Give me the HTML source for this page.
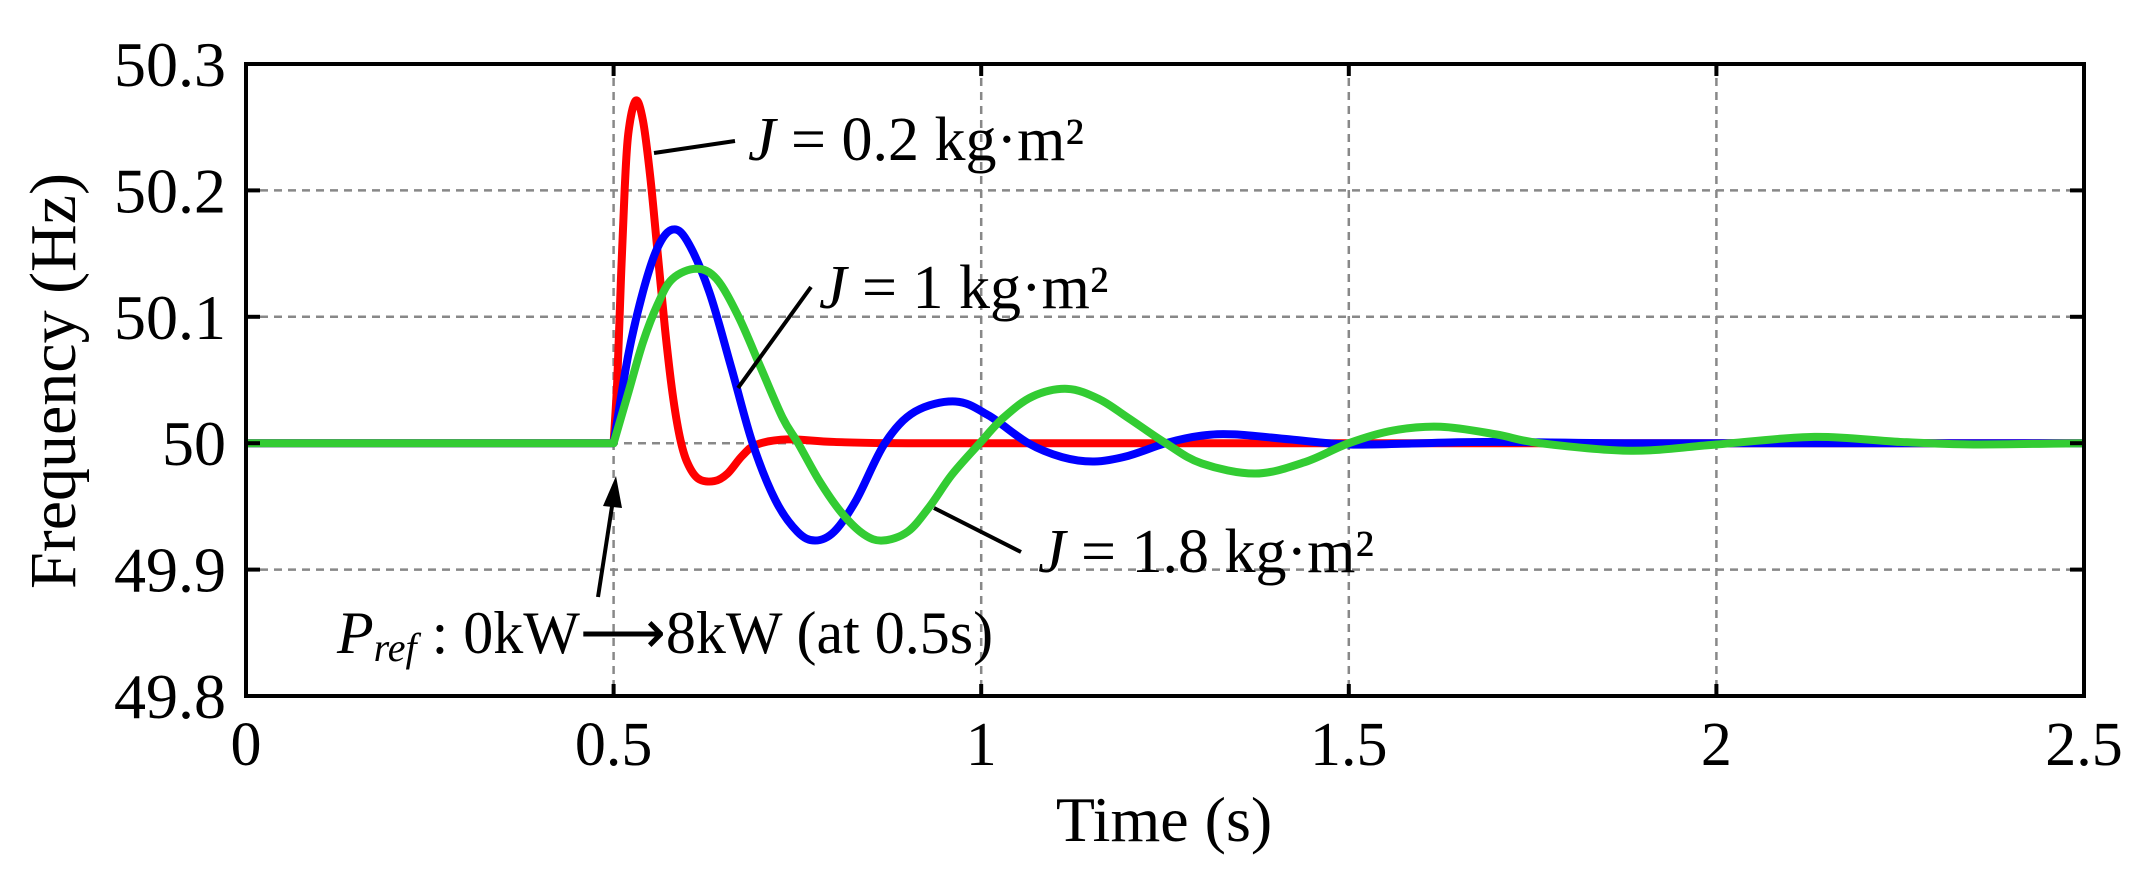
<!DOCTYPE html>
<html><head><meta charset="utf-8"><style>
html,body{margin:0;padding:0;background:#fff;}
svg{display:block;font-family:"Liberation Serif",serif;}
</style></head><body>
<svg id="chart" width="2147" height="879" viewBox="0 0 2147 879">
<g id="grid"></g>
<g id="series"></g>
<rect x="246" y="64" width="1838" height="632" fill="none" stroke="#000" stroke-width="4"/>
<g id="ticks"></g>
<text x="60" y="381" font-size="66" text-anchor="middle" transform="rotate(-90 60 381)" dominant-baseline="middle">Frequency (Hz)</text>
<text x="1164" y="841" font-size="64" text-anchor="middle">Time (s)</text>
<g>
<line x1="654" y1="153" x2="735" y2="141" stroke="#000" stroke-width="4"/>
<text x="748" y="160" font-size="62"><tspan font-style="italic">J</tspan> = 0.2 kg·m²</text></g>
<g>
<line x1="738" y1="388" x2="811" y2="287" stroke="#000" stroke-width="4"/>
<text x="819" y="308" font-size="62"><tspan font-style="italic">J</tspan> = 1 kg·m²</text></g>
<g>
<line x1="934" y1="508" x2="1021" y2="552" stroke="#000" stroke-width="4"/>
<text x="1038" y="572" font-size="62"><tspan font-style="italic">J</tspan> = 1.8 kg·m²</text></g>
<g>
<line x1="598" y1="597" x2="613" y2="500" stroke="#000" stroke-width="4"/>
<polygon points="616,476 603,506 622,508" fill="#000"/>
<text x="337" y="653" font-size="60"><tspan font-style="italic">P</tspan><tspan font-style="italic" font-size="40" dy="8">ref</tspan><tspan dy="-8"> : 0kW⟶8kW (at 0.5s)</tspan></text></g>
</svg>
<script>
const xTicks=[0,0.5,1,1.5,2,2.5];
const xTickLabels=["0","0.5","1","1.5","2","2.5"];
const yTicks=[49.8,49.9,50,50.1,50.2,50.3];
const yTickLabels=["49.8","49.9","50","50.1","50.2","50.3"];
const timeRed=[0,0.25,0.45,0.5,0.505,0.51,0.515,0.52,0.53,0.54,0.55,0.56,0.57,0.58,0.59,0.6,0.615,0.637,0.655,0.675,0.695,0.737,0.8,0.9,1.2,1.6,2.0,2.5];
const freqRed=[50,50,50,50,50.05,50.13,50.2,50.245,50.271,50.255,50.21,50.15,50.09,50.04,50.005,49.985,49.972,49.97,49.976,49.99,49.999,50.003,50.001,50,50,50,50,50];
const timeBlue=[0,0.25,0.45,0.5,0.52,0.54,0.56,0.58,0.6,0.63,0.66,0.689,0.72,0.75,0.774,0.8,0.83,0.869,0.91,0.965,1.01,1.064,1.11,1.154,1.2,1.251,1.3,1.345,1.42,1.5,1.6,1.7,1.9,2.2,2.5];
const freqBlue=[50,50,50,50,50.07,50.12,50.155,50.169,50.16,50.12,50.06,50,49.955,49.93,49.923,49.93,49.955,50,50.025,50.033,50.022,50,49.989,49.9855,49.99,50,50.006,50.007,50.003,49.999,50,50.001,50,50,50];
const timeGreen=[0,0.25,0.45,0.5,0.52,0.54,0.56,0.58,0.6125,0.64,0.67,0.7,0.73,0.751,0.78,0.81,0.84,0.866,0.9,0.93,0.96,0.998,1.03,1.07,1.117,1.16,1.2,1.251,1.3,1.373,1.44,1.5,1.56,1.625,1.7,1.76,1.884,2.0,2.133,2.25,2.35,2.5];
const freqGreen=[50,50,50,50,50.04,50.08,50.11,50.13,50.138,50.13,50.1,50.06,50.02,50,49.97,49.945,49.928,49.923,49.93,49.95,49.975,50,50.02,50.037,50.043,50.035,50.02,50,49.984,49.976,49.985,50,50.01,50.013,50.007,50,49.994,49.999,50.005,50.001,49.999,50];

const X0=246,X1=2084,Y0=696,Y1=64;
function xs(t){return X0+(t-0)/(2.5-0)*(X1-X0);}
function ys(v){return Y0-(v-49.8)/(50.3-49.8)*(Y0-Y1);}
const NS="http://www.w3.org/2000/svg";
const grid=document.getElementById('grid'),ticks=document.getElementById('ticks'),series=document.getElementById('series');
function mk(tag,attrs,parent){const e=document.createElementNS(NS,tag);for(const k in attrs)e.setAttribute(k,attrs[k]);parent.appendChild(e);return e;}
xTicks.forEach((t,i)=>{
  const x=xs(t);
  if(i>0&&i<xTicks.length-1){const g=mk('line',{x1:x,y1:Y1,x2:x,y2:Y0,stroke:'#888','stroke-width':2.5,'stroke-dasharray':'8 6'},grid);
  
  }
  mk('line',{x1:x,y1:Y0,x2:x,y2:Y0-12,stroke:'#000','stroke-width':4},ticks);
  mk('line',{x1:x,y1:Y1,x2:x,y2:Y1+12,stroke:'#000','stroke-width':4},ticks);
  const tx=mk('text',{x:x,y:765,'font-size':62,'text-anchor':'middle'},ticks);
  tx.textContent=xTickLabels[i];
  
  
});
yTicks.forEach((v,i)=>{
  const y=ys(v);
  if(i>0&&i<yTicks.length-1){const g=mk('line',{x1:X0,y1:y,x2:X1,y2:y,stroke:'#888','stroke-width':2.5,'stroke-dasharray':'8 6'},grid);
  
  }
  mk('line',{x1:X0,y1:y,x2:X0+14,y2:y,stroke:'#000','stroke-width':4},ticks);
  mk('line',{x1:X1,y1:y,x2:X1-14,y2:y,stroke:'#000','stroke-width':4},ticks);
  const tx=mk('text',{x:226,y:y+22,'font-size':64,'text-anchor':'end'},ticks);
  tx.textContent=yTickLabels[i];
  
  
});
function path(ts,vs){
  const p=ts.map((t,i)=>[xs(t),ys(vs[i])]);
  let d='M'+p[0][0]+','+p[0][1];
  for(let i=0;i<p.length-1;i++){
    const a=p[Math.max(0,i-1)],b=p[i],c=p[i+1],e=p[Math.min(p.length-1,i+2)];
    if(b[1]===c[1]&&(i===0||a[1]===b[1])){d+=' L'+c[0]+','+c[1];continue;}
    let c1x,c1y;
    if(i>0&&a[1]===b[1]){c1x=b[0]+(c[0]-b[0])/3;c1y=b[1]+(c[1]-b[1])/3;}
    else{c1x=b[0]+(c[0]-a[0])/6;c1y=b[1]+(c[1]-a[1])/6;}
    let c2x=c[0]-(e[0]-b[0])/6,c2y=(c[1]===e[1])?c[1]:c[1]-(e[1]-b[1])/6;
    c1x=Math.min(Math.max(c1x,b[0]),c[0]);c2x=Math.min(Math.max(c2x,b[0]),c[0]);
    d+=' C'+c1x+','+c1y+' '+c2x+','+c2y+' '+c[0]+','+c[1];
  }
  return d;
}
const r=mk('path',{d:path(timeRed,freqRed),fill:'none',stroke:'#ff0000','stroke-width':8,'stroke-linejoin':'round'},series);


const b=mk('path',{d:path(timeBlue,freqBlue),fill:'none',stroke:'#0000ff','stroke-width':8,'stroke-linejoin':'round'},series);


const g=mk('path',{d:path(timeGreen,freqGreen),fill:'none',stroke:'#33cc33','stroke-width':8,'stroke-linejoin':'round'},series);


</script>
</body></html>
